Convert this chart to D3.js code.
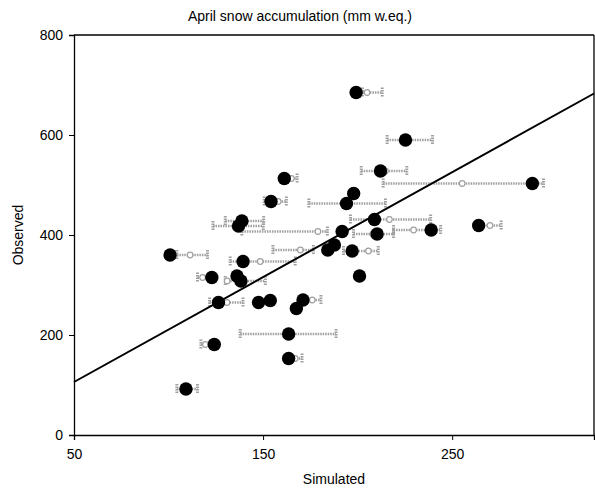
<!DOCTYPE html>
<html><head><meta charset="utf-8">
<script src="https://cdn.jsdelivr.net/npm/d3@7"></script>
<style>body{margin:0;background:#fff;} svg{display:block;} text{font-family:"Liberation Sans",Arial,sans-serif;fill:#000;}</style>
</head><body>
<svg id="c" width="595" height="493"></svg>
<script>
const title = "April snow accumulation (mm w.eq.)";
const xLabel = "Simulated";
const yLabel = "Observed";
const xTicks = [50, 150, 250];
const yTicks = [0, 200, 400, 600, 800];
// black points
const sim = [199.2,225.3,292.4,212.1,161.2,154.2,197.9,194.1,208.9,238.9,210.3,191.8,138.8,137.0,100.8,139.4,184.2,187.7,197.1,122.9,136.2,138.3,126.4,147.6,153.8,171.1,167.6,163.5,124.2,163.5,109.2,264.0,201.0];
const obs = [685,590,503,528,513,467,483,463,431,410,402,407,428,418,360,347,370,380,368,315,318,308,265,265,269,270,253,202,181,153,92,419,318];
// gray range bars (null = none)
const barLo = [202.5,215.6,213.5,201.9,161.2,150.6,null,174.2,196.2,219.0,197.8,138.8,130.0,123.5,104.4,132.6,155.2,null,192.5,115.3,null,130.0,121.7,null,null,171.1,null,137.9,117.1,163.5,104.4,264.0,null];
const barHi = [213.0,239.6,298.3,226.0,168.0,162.3,null,214.7,238.6,243.9,219.0,184.0,150.3,150.1,120.6,167.0,176.6,null,210.9,121.0,null,151.2,139.4,null,null,180.6,null,188.6,122.0,170.6,115.3,275.9,null];
const barMid = [205.0,225.0,255.3,214.7,165.0,158.0,null,194.0,216.8,229.6,208.0,179.0,140.0,136.0,111.4,148.5,169.7,null,205.7,118.0,null,131.0,130.9,null,null,176.0,null,163.5,119.5,167.0,110.0,270.0,null];
const lineX = [50, 325];
const lineY = [106, 683];

const svg = d3.select("#c");
const x = d3.scaleLinear().domain([50, 325]).range([74, 594]);
const y = d3.scaleLinear().domain([0, 800]).range([435, 35]);

svg.append("text").attr("x", 300).attr("y", 21).attr("text-anchor","middle").attr("font-size",14).text(title);

const gx = svg.append("g").attr("transform","translate(0,435)")
  .call(d3.axisBottom(x).tickValues(xTicks).tickSize(5).tickPadding(9).tickFormat(d3.format("d")));
const gy = svg.append("g").attr("transform","translate(74,0)")
  .call(d3.axisLeft(y).tickValues(yTicks).tickSize(5).tickPadding(6).tickFormat(d3.format("d")));
[gx, gy].forEach(g => { g.select(".domain").attr("stroke","#000").attr("stroke-width",1.3);
  g.selectAll("text").attr("font-size",14).attr("font-family","Liberation Sans, Arial, sans-serif");
  g.selectAll(".tick line").attr("stroke","#000"); });
// frame top/right
svg.append("line").attr("x1",x(50)).attr("x2",x(325)).attr("y1",y(800)).attr("y2",y(800)).attr("stroke","#000").attr("stroke-width",1.3);
svg.append("line").attr("x1",x(325)).attr("x2",x(325)).attr("y1",y(800)).attr("y2",y(0)).attr("stroke","#000").attr("stroke-width",1.3);

svg.append("text").attr("x", (74+594)/2).attr("y", 484).attr("text-anchor","middle").attr("font-size",14).text(xLabel);
svg.append("text").attr("transform","translate(23,235) rotate(-90)").attr("text-anchor","middle").attr("font-size",14).text(yLabel);

const data = sim.map((s,i)=>({s, o:obs[i], lo:barLo[i], hi:barHi[i], mid:barMid[i]}));
const bars = svg.append("g").attr("stroke","#a0a0a0").attr("fill","none");
data.filter(d=>d.lo!=null).forEach(d=>{
  const yy = y(d.o);
  bars.append("line").attr("x1",x(d.lo)).attr("x2",x(d.hi)).attr("y1",yy).attr("y2",yy).attr("stroke-width",2.5).attr("stroke-dasharray","1.5,1");
  [d.lo,d.hi].forEach(v=>bars.append("line").attr("x1",x(v)).attr("x2",x(v)).attr("y1",yy-5).attr("y2",yy+5).attr("stroke-width",3).attr("stroke-dasharray","1.5,1"));
  bars.append("circle").attr("cx",x(d.mid)).attr("cy",yy).attr("r",2.8).attr("stroke-width",1.2).attr("fill","#fff");
});
// regression line
svg.append("line").attr("x1",x(lineX[0])).attr("y1",y(lineY[0])).attr("x2",x(lineX[1])).attr("y2",y(lineY[1])).attr("stroke","#000").attr("stroke-width",2);
svg.append("g").selectAll("circle").data(data).join("circle")
  .attr("cx",d=>x(d.s)).attr("cy",d=>y(d.o)).attr("r",6.7).attr("fill","#000");
</script>
</body></html>
